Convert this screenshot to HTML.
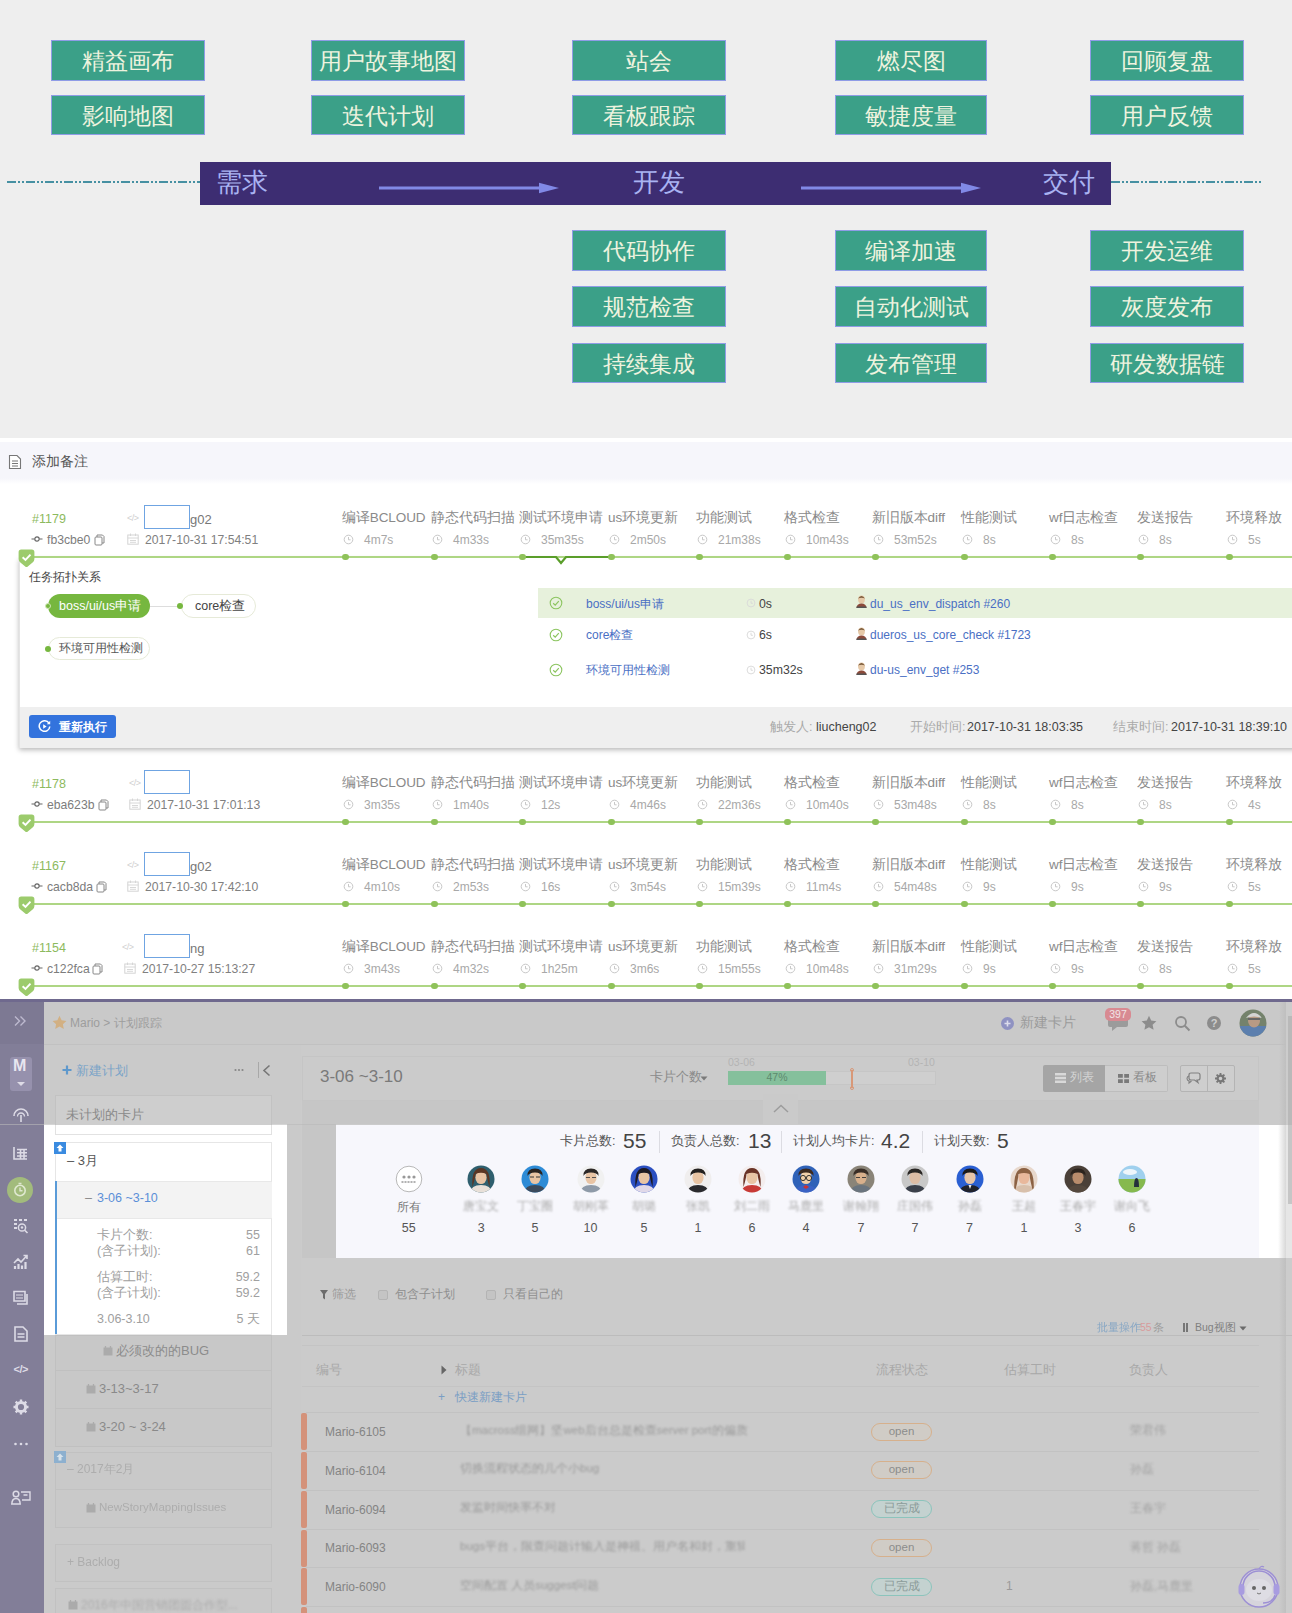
<!DOCTYPE html>
<html><head><meta charset="utf-8">
<style>
*{box-sizing:border-box;margin:0;padding:0}
html,body{width:1292px;height:1613px;overflow:hidden;background:#fff}
body{font-family:"Liberation Sans",sans-serif;position:relative;color:#666}
.a{position:absolute}
#s1,#s2,#s3{overflow:hidden}
.t{position:absolute;white-space:nowrap;line-height:1}
/* section 1 */
#s1{left:0;top:0;width:1292px;height:437.5px;background:#eeeeee}
.gb{position:absolute;width:154px;height:41px;background:#3ba088;border:1px solid #8f9ce6;color:#eef3df;font-size:23px;text-align:center;line-height:41px;white-space:nowrap;overflow:hidden;font-family:"Liberation Sans",sans-serif}
#bar{left:200px;top:162px;width:911px;height:43px;background:#3d2d72}
.bt{color:#a9b3f2;font-size:26px}
/* section 2 */
#s2{left:0;top:438px;width:1292px;height:561px;background:#fff}
.dot{width:6.5px;height:6.5px;border-radius:50%;background:#8fc25a}
.cm{font-size:12.2px;color:#7c7c7c}
.sh{font-size:13.5px;color:#8a8a8a;letter-spacing:-0.1px}
.du{font-size:12px;color:#a8a8a8}
/* section 3 */
#s3{left:0;top:998px;width:1292px;height:615px;background:#cbcbcb}
</style></head><body>
<div id="s1" class="a">
<div class="gb" style="left:51px;top:40px;width:154px;height:41px;line-height:41px">精益画布</div>
<div class="gb" style="left:51px;top:95px;width:154px;height:40px;line-height:40px">影响地图</div>
<div class="gb" style="left:311px;top:40px;width:154px;height:41px;line-height:41px">用户故事地图</div>
<div class="gb" style="left:311px;top:95px;width:154px;height:40px;line-height:40px">迭代计划</div>
<div class="gb" style="left:572px;top:40px;width:154px;height:41px;line-height:41px">站会</div>
<div class="gb" style="left:572px;top:95px;width:154px;height:40px;line-height:40px">看板跟踪</div>
<div class="gb" style="left:572px;top:230px;width:154px;height:41px;line-height:41px">代码协作</div>
<div class="gb" style="left:572px;top:286px;width:154px;height:41px;line-height:41px">规范检查</div>
<div class="gb" style="left:572px;top:343px;width:154px;height:40px;line-height:40px">持续集成</div>
<div class="gb" style="left:835px;top:40px;width:152px;height:41px;line-height:41px">燃尽图</div>
<div class="gb" style="left:835px;top:95px;width:152px;height:40px;line-height:40px">敏捷度量</div>
<div class="gb" style="left:835px;top:230px;width:152px;height:41px;line-height:41px">编译加速</div>
<div class="gb" style="left:835px;top:286px;width:152px;height:41px;line-height:41px">自动化测试</div>
<div class="gb" style="left:835px;top:343px;width:152px;height:40px;line-height:40px">发布管理</div>
<div class="gb" style="left:1090px;top:40px;width:154px;height:41px;line-height:41px">回顾复盘</div>
<div class="gb" style="left:1090px;top:95px;width:154px;height:40px;line-height:40px">用户反馈</div>
<div class="gb" style="left:1090px;top:230px;width:154px;height:41px;line-height:41px">开发运维</div>
<div class="gb" style="left:1090px;top:286px;width:154px;height:41px;line-height:41px">灰度发布</div>
<div class="gb" style="left:1090px;top:343px;width:154px;height:40px;line-height:40px">研发数据链</div>
<svg class="a" style="left:0;top:170px" width="1292" height="30"><line x1="7" y1="12" x2="200" y2="12" stroke="#4690a2" stroke-width="1.8" stroke-dasharray="9 2 2 2 2 2"/><line x1="1111" y1="12" x2="1262" y2="12" stroke="#4690a2" stroke-width="1.8" stroke-dasharray="9 2 2 2 2 2"/></svg>
<div id="bar" class="a"></div>
<svg class="a" style="left:370px;top:178px" width="620" height="20"><path d="M9 10H172" stroke="#8189e6" stroke-width="3.2" fill="none"/><path d="M169 4.8L189 10L169 15.2Z" fill="#8189e6"/><path d="M431 10H594" stroke="#8189e6" stroke-width="3.2" fill="none"/><path d="M591 4.8L611 10L591 15.2Z" fill="#8189e6"/></svg>
<div class="t bt" style="left:216px;top:169px">需求</div>
<div class="t bt" style="left:633px;top:169px">开发</div>
<div class="t bt" style="left:1043px;top:169px">交付</div>
</div>
<div id="s2" class="a">
<div class="a" style="left:0;top:3.6px;width:1292px;height:42px;background:linear-gradient(to bottom,#f6f6fb 0,#f6f6fb 36px,#fff 42px)"></div>
<svg class="a" style="left:8px;top:16px" width="14" height="16" viewBox="0 0 14 16"><path d="M1.5 1.5H9L12.5 5V14.5H1.5Z" fill="#fff" stroke="#777" stroke-width="1.1"/><path d="M4 7H10M4 9.5H10M4 12H10" stroke="#777" stroke-width="1"/></svg>
<div class="t" style="left:32px;top:17px;font-size:13.5px;color:#555">添加备注</div>
<!--PANEL-->
<div class="a" style="left:19px;top:120px;width:1290px;height:189.5px;background:#fff;box-shadow:0 2px 5px rgba(0,0,0,0.28);border-left:1px solid #e4e4e4"></div>
<div class="a" style="left:20px;top:269px;width:1272px;height:40.5px;background:#efefef"></div>
<div class="t" style="left:29px;top:132.8px;font-size:11.6px;color:#444">任务拓扑关系</div>
<div class="a" style="left:48px;top:156px;width:102px;height:24px;border-radius:12px;background:#76b73f;color:#fff;font-size:12.5px;line-height:24px;padding-left:11px;white-space:nowrap">boss/ui/us申请</div>
<div class="a" style="left:45px;top:165px;width:6px;height:6px;border-radius:50%;background:#76b73f;border:1px solid #cfe6b5"></div>
<div class="a" style="left:150px;top:167.5px;width:28px;height:1px;background:#ddd"></div>
<div class="a" style="left:181px;top:156px;width:75px;height:24px;border-radius:12px;background:#fff;border:1px solid #e6ead8;color:#444;font-size:12.5px;line-height:22px;padding-left:13px;white-space:nowrap">core检查</div>
<div class="a" style="left:177px;top:165px;width:6px;height:6px;border-radius:50%;background:#76b73f"></div>
<div class="a" style="left:48px;top:199px;width:102px;height:23px;border-radius:12px;background:#fff;border:1px solid #e6ead8;color:#555;font-size:12px;line-height:21px;padding-left:10px;white-space:nowrap">环境可用性检测</div>
<div class="a" style="left:45px;top:208px;width:6px;height:6px;border-radius:50%;background:#76b73f"></div>
<div class="a" style="left:538px;top:150px;width:754px;height:30px;background:#e7f1dc"></div>
<svg class="a" style="left:549px;top:158px" width="14" height="14" viewBox="0 0 14 14"><circle cx="7" cy="7" r="5.8" fill="none" stroke="#8cc560" stroke-width="1.1"/><path d="M4.2 7.2L6.2 9.1L9.8 5.1" stroke="#8cc560" stroke-width="1.2" fill="none"/></svg>
<div class="t" style="left:586px;top:159.5px;font-size:12px;color:#4a6fc4">boss/ui/us申请</div>
<svg class="a" style="left:746px;top:160px" width="10" height="10" viewBox="0 0 11 11"><circle cx="5.5" cy="5.5" r="4.3" fill="none" stroke="#d8d8d8" stroke-width="1"/><path d="M5.5 3V5.8H7.6" stroke="#d8d8d8" stroke-width="1" fill="none"/></svg>
<div class="t" style="left:759px;top:159.5px;font-size:12.3px;color:#444">0s</div>
<svg class="a" style="left:856px;top:157px" width="11" height="13" viewBox="0 0 11 13"><ellipse cx="5.5" cy="4.6" rx="3.4" ry="4" fill="#e6c9a8"/><path d="M2 3.5Q5.5 -1.5 9 3.5Q5.5 1.8 2 3.5Z" fill="#7a5a3a"/><path d="M0.5 13Q0.8 8.5 5.5 8.5Q10.2 8.5 10.5 13Z" fill="#8c4a3a"/><rect x="0.5" y="11.5" width="10" height="1.5" fill="#555"/></svg>
<div class="t" style="left:870px;top:159.5px;font-size:12px;color:#4a6fc4">du_us_env_dispatch #260</div>
<svg class="a" style="left:549px;top:189.5px" width="14" height="14" viewBox="0 0 14 14"><circle cx="7" cy="7" r="5.8" fill="none" stroke="#8cc560" stroke-width="1.1"/><path d="M4.2 7.2L6.2 9.1L9.8 5.1" stroke="#8cc560" stroke-width="1.2" fill="none"/></svg>
<div class="t" style="left:586px;top:191px;font-size:12px;color:#4a6fc4">core检查</div>
<svg class="a" style="left:746px;top:191.5px" width="10" height="10" viewBox="0 0 11 11"><circle cx="5.5" cy="5.5" r="4.3" fill="none" stroke="#d8d8d8" stroke-width="1"/><path d="M5.5 3V5.8H7.6" stroke="#d8d8d8" stroke-width="1" fill="none"/></svg>
<div class="t" style="left:759px;top:191px;font-size:12.3px;color:#444">6s</div>
<svg class="a" style="left:856px;top:188.5px" width="11" height="13" viewBox="0 0 11 13"><ellipse cx="5.5" cy="4.6" rx="3.4" ry="4" fill="#e6c9a8"/><path d="M2 3.5Q5.5 -1.5 9 3.5Q5.5 1.8 2 3.5Z" fill="#7a5a3a"/><path d="M0.5 13Q0.8 8.5 5.5 8.5Q10.2 8.5 10.5 13Z" fill="#8c4a3a"/><rect x="0.5" y="11.5" width="10" height="1.5" fill="#555"/></svg>
<div class="t" style="left:870px;top:191px;font-size:12px;color:#4a6fc4">dueros_us_core_check #1723</div>
<svg class="a" style="left:549px;top:224.5px" width="14" height="14" viewBox="0 0 14 14"><circle cx="7" cy="7" r="5.8" fill="none" stroke="#8cc560" stroke-width="1.1"/><path d="M4.2 7.2L6.2 9.1L9.8 5.1" stroke="#8cc560" stroke-width="1.2" fill="none"/></svg>
<div class="t" style="left:586px;top:226px;font-size:12px;color:#4a6fc4">环境可用性检测</div>
<svg class="a" style="left:746px;top:226.5px" width="10" height="10" viewBox="0 0 11 11"><circle cx="5.5" cy="5.5" r="4.3" fill="none" stroke="#d8d8d8" stroke-width="1"/><path d="M5.5 3V5.8H7.6" stroke="#d8d8d8" stroke-width="1" fill="none"/></svg>
<div class="t" style="left:759px;top:226px;font-size:12.3px;color:#444">35m32s</div>
<svg class="a" style="left:856px;top:223.5px" width="11" height="13" viewBox="0 0 11 13"><ellipse cx="5.5" cy="4.6" rx="3.4" ry="4" fill="#e6c9a8"/><path d="M2 3.5Q5.5 -1.5 9 3.5Q5.5 1.8 2 3.5Z" fill="#7a5a3a"/><path d="M0.5 13Q0.8 8.5 5.5 8.5Q10.2 8.5 10.5 13Z" fill="#8c4a3a"/><rect x="0.5" y="11.5" width="10" height="1.5" fill="#555"/></svg>
<div class="t" style="left:870px;top:226px;font-size:12px;color:#4a6fc4">du-us_env_get #253</div>
<div class="a" style="left:29px;top:277px;width:87px;height:23px;border-radius:3px;background:#3373dd"></div>
<svg class="a" style="left:38px;top:282px" width="13" height="13" viewBox="0 0 13 13"><path d="M11 3.2A5.3 5.3 0 1 0 11.8 6.5" fill="none" stroke="#fff" stroke-width="1.5"/><path d="M12.2 0.8V4.2H8.8Z" fill="#fff"/><path d="M5.2 4.2L8.6 6.5L5.2 8.8Z" fill="#fff"/></svg>
<div class="t" style="left:59px;top:282.5px;font-size:12px;color:#fff;font-weight:bold">重新执行</div>
<div class="t" style="left:770px;top:283px;font-size:12.5px;color:#aaa">触发人:</div>
<div class="t" style="left:816px;top:283px;font-size:12.5px;color:#444">liucheng02</div>
<div class="t" style="left:910px;top:283px;font-size:12.5px;color:#aaa">开始时间:</div>
<div class="t" style="left:967px;top:283px;font-size:12.5px;color:#444">2017-10-31 18:03:35</div>
<div class="t" style="left:1113px;top:283px;font-size:12.5px;color:#aaa">结束时间:</div>
<div class="t" style="left:1171px;top:283px;font-size:12.5px;color:#444">2017-10-31 18:39:10</div>
<div class="a" style="left:26px;top:118px;width:1266px;height:2px;background:#aed684"></div>
<svg class="a" style="left:520px;top:114px" width="94" height="14" viewBox="0 0 94 14"><path d="M3 5H36L41 11L46 5H90" fill="none" stroke="#5a9e2a" stroke-width="2.2"/></svg><div class="a dot" style="left:342px;top:115.75px"></div>
<div class="a dot" style="left:431px;top:115.75px"></div>
<div class="a dot" style="left:519px;top:115.75px"></div>
<div class="a dot" style="left:608px;top:115.75px"></div>
<div class="a dot" style="left:696px;top:115.75px"></div>
<div class="a dot" style="left:784px;top:115.75px"></div>
<div class="a dot" style="left:872px;top:115.75px"></div>
<div class="a dot" style="left:961px;top:115.75px"></div>
<div class="a dot" style="left:1049px;top:115.75px"></div>
<div class="a dot" style="left:1137px;top:115.75px"></div>
<div class="a dot" style="left:1226px;top:115.75px"></div>
<svg class="a" style="left:18px;top:111px" width="17" height="19" viewBox="0 0 17 19"><path d="M3.2 0.6H13.8Q16.4 0.6 16.4 3.2V10Q16.4 12.2 14.6 13.5L9.8 17.4Q8.5 18.4 7.2 17.4L2.4 13.5Q0.6 12.2 0.6 10V3.2Q0.6 0.6 3.2 0.6Z" fill="#9ccb6c"/><path d="M4.6 8.2L7.5 11L12.5 5.6" stroke="#fff" stroke-width="1.9" fill="none"/></svg>
<div class="t" style="left:32px;top:75px;font-size:12.5px;color:#8dba5e">#1179</div>
<svg class="a" style="left:31px;top:97px" width="12" height="8" viewBox="0 0 12 8"><circle cx="6" cy="4" r="2.2" fill="none" stroke="#666" stroke-width="1.2"/><path d="M0.5 4H3.5M8.5 4H11.5" stroke="#666" stroke-width="1.2"/></svg>
<div class="t cm" style="left:47px;top:95.5px">fb3cbe0</div><svg class="a" style="left:94px;top:95.5px" width="11" height="12" viewBox="0 0 11 12"><path d="M3 3V1H8.5L10 2.5V9H8" fill="none" stroke="#888" stroke-width="1"/><rect x="1" y="3" width="7" height="8" rx="1" fill="#fff" stroke="#888" stroke-width="1"/></svg>
<div class="t" style="left:127px;top:76px;font-size:9px;color:#cfcfcf;letter-spacing:-0.5px">&lt;/&gt;</div>
<div class="t" style="left:190px;top:74.5px;font-size:13px;color:#777">g02</div>
<div class="a" style="left:144px;top:67px;width:46px;height:24px;border:1.3px solid #6fa4e2;background:#fff"></div>
<svg class="a" style="left:127px;top:95px" width="12" height="12" viewBox="0 0 12 12"><rect x="0.8" y="2" width="10.4" height="9.2" fill="none" stroke="#d4d4d4" stroke-width="1"/><path d="M0.8 5H11.2M3.5 0.5V3M8.5 0.5V3M3 7.5H9M3 9.3H9" stroke="#d4d4d4" stroke-width="0.9"/></svg>
<div class="t cm" style="left:145px;top:95.5px;color:#808080">2017-10-31 17:54:51</div>
<div class="t sh" style="left:342px;top:73px">编译BCLOUD</div>
<svg class="a" style="left:343px;top:96px" width="11" height="11" viewBox="0 0 11 11"><circle cx="5.5" cy="5.5" r="4.3" fill="none" stroke="#c8c8c8" stroke-width="1"/><path d="M5.5 3V5.8H7.6" stroke="#c8c8c8" stroke-width="1" fill="none"/></svg>
<div class="t du" style="left:364px;top:96px">4m7s</div>
<div class="t sh" style="left:431px;top:73px">静态代码扫描</div>
<svg class="a" style="left:432px;top:96px" width="11" height="11" viewBox="0 0 11 11"><circle cx="5.5" cy="5.5" r="4.3" fill="none" stroke="#c8c8c8" stroke-width="1"/><path d="M5.5 3V5.8H7.6" stroke="#c8c8c8" stroke-width="1" fill="none"/></svg>
<div class="t du" style="left:453px;top:96px">4m33s</div>
<div class="t sh" style="left:519px;top:73px">测试环境申请</div>
<svg class="a" style="left:520px;top:96px" width="11" height="11" viewBox="0 0 11 11"><circle cx="5.5" cy="5.5" r="4.3" fill="none" stroke="#c8c8c8" stroke-width="1"/><path d="M5.5 3V5.8H7.6" stroke="#c8c8c8" stroke-width="1" fill="none"/></svg>
<div class="t du" style="left:541px;top:96px">35m35s</div>
<div class="t sh" style="left:608px;top:73px">us环境更新</div>
<svg class="a" style="left:609px;top:96px" width="11" height="11" viewBox="0 0 11 11"><circle cx="5.5" cy="5.5" r="4.3" fill="none" stroke="#c8c8c8" stroke-width="1"/><path d="M5.5 3V5.8H7.6" stroke="#c8c8c8" stroke-width="1" fill="none"/></svg>
<div class="t du" style="left:630px;top:96px">2m50s</div>
<div class="t sh" style="left:696px;top:73px">功能测试</div>
<svg class="a" style="left:697px;top:96px" width="11" height="11" viewBox="0 0 11 11"><circle cx="5.5" cy="5.5" r="4.3" fill="none" stroke="#c8c8c8" stroke-width="1"/><path d="M5.5 3V5.8H7.6" stroke="#c8c8c8" stroke-width="1" fill="none"/></svg>
<div class="t du" style="left:718px;top:96px">21m38s</div>
<div class="t sh" style="left:784px;top:73px">格式检查</div>
<svg class="a" style="left:785px;top:96px" width="11" height="11" viewBox="0 0 11 11"><circle cx="5.5" cy="5.5" r="4.3" fill="none" stroke="#c8c8c8" stroke-width="1"/><path d="M5.5 3V5.8H7.6" stroke="#c8c8c8" stroke-width="1" fill="none"/></svg>
<div class="t du" style="left:806px;top:96px">10m43s</div>
<div class="t sh" style="left:872px;top:73px">新旧版本diff</div>
<svg class="a" style="left:873px;top:96px" width="11" height="11" viewBox="0 0 11 11"><circle cx="5.5" cy="5.5" r="4.3" fill="none" stroke="#c8c8c8" stroke-width="1"/><path d="M5.5 3V5.8H7.6" stroke="#c8c8c8" stroke-width="1" fill="none"/></svg>
<div class="t du" style="left:894px;top:96px">53m52s</div>
<div class="t sh" style="left:961px;top:73px">性能测试</div>
<svg class="a" style="left:962px;top:96px" width="11" height="11" viewBox="0 0 11 11"><circle cx="5.5" cy="5.5" r="4.3" fill="none" stroke="#c8c8c8" stroke-width="1"/><path d="M5.5 3V5.8H7.6" stroke="#c8c8c8" stroke-width="1" fill="none"/></svg>
<div class="t du" style="left:983px;top:96px">8s</div>
<div class="t sh" style="left:1049px;top:73px">wf日志检查</div>
<svg class="a" style="left:1050px;top:96px" width="11" height="11" viewBox="0 0 11 11"><circle cx="5.5" cy="5.5" r="4.3" fill="none" stroke="#c8c8c8" stroke-width="1"/><path d="M5.5 3V5.8H7.6" stroke="#c8c8c8" stroke-width="1" fill="none"/></svg>
<div class="t du" style="left:1071px;top:96px">8s</div>
<div class="t sh" style="left:1137px;top:73px">发送报告</div>
<svg class="a" style="left:1138px;top:96px" width="11" height="11" viewBox="0 0 11 11"><circle cx="5.5" cy="5.5" r="4.3" fill="none" stroke="#c8c8c8" stroke-width="1"/><path d="M5.5 3V5.8H7.6" stroke="#c8c8c8" stroke-width="1" fill="none"/></svg>
<div class="t du" style="left:1159px;top:96px">8s</div>
<div class="t sh" style="left:1226px;top:73px">环境释放</div>
<svg class="a" style="left:1227px;top:96px" width="11" height="11" viewBox="0 0 11 11"><circle cx="5.5" cy="5.5" r="4.3" fill="none" stroke="#c8c8c8" stroke-width="1"/><path d="M5.5 3V5.8H7.6" stroke="#c8c8c8" stroke-width="1" fill="none"/></svg>
<div class="t du" style="left:1248px;top:96px">5s</div>
<div class="a" style="left:26px;top:383px;width:1266px;height:2px;background:#aed684"></div>
<div class="a dot" style="left:342px;top:380.75px"></div>
<div class="a dot" style="left:431px;top:380.75px"></div>
<div class="a dot" style="left:519px;top:380.75px"></div>
<div class="a dot" style="left:608px;top:380.75px"></div>
<div class="a dot" style="left:696px;top:380.75px"></div>
<div class="a dot" style="left:784px;top:380.75px"></div>
<div class="a dot" style="left:872px;top:380.75px"></div>
<div class="a dot" style="left:961px;top:380.75px"></div>
<div class="a dot" style="left:1049px;top:380.75px"></div>
<div class="a dot" style="left:1137px;top:380.75px"></div>
<div class="a dot" style="left:1226px;top:380.75px"></div>
<svg class="a" style="left:18px;top:376px" width="17" height="19" viewBox="0 0 17 19"><path d="M3.2 0.6H13.8Q16.4 0.6 16.4 3.2V10Q16.4 12.2 14.6 13.5L9.8 17.4Q8.5 18.4 7.2 17.4L2.4 13.5Q0.6 12.2 0.6 10V3.2Q0.6 0.6 3.2 0.6Z" fill="#9ccb6c"/><path d="M4.6 8.2L7.5 11L12.5 5.6" stroke="#fff" stroke-width="1.9" fill="none"/></svg>
<div class="t" style="left:32px;top:340px;font-size:12.5px;color:#8dba5e">#1178</div>
<svg class="a" style="left:31px;top:362px" width="12" height="8" viewBox="0 0 12 8"><circle cx="6" cy="4" r="2.2" fill="none" stroke="#666" stroke-width="1.2"/><path d="M0.5 4H3.5M8.5 4H11.5" stroke="#666" stroke-width="1.2"/></svg>
<div class="t cm" style="left:47px;top:360.5px">eba623b</div><svg class="a" style="left:98px;top:360.5px" width="11" height="12" viewBox="0 0 11 12"><path d="M3 3V1H8.5L10 2.5V9H8" fill="none" stroke="#888" stroke-width="1"/><rect x="1" y="3" width="7" height="8" rx="1" fill="#fff" stroke="#888" stroke-width="1"/></svg>
<div class="t" style="left:129px;top:341px;font-size:9px;color:#cfcfcf;letter-spacing:-0.5px">&lt;/&gt;</div>
<div class="t" style="left:190px;top:339.5px;font-size:13px;color:#777"></div>
<div class="a" style="left:144px;top:332px;width:46px;height:24px;border:1.3px solid #6fa4e2;background:#fff"></div>
<svg class="a" style="left:129px;top:360px" width="12" height="12" viewBox="0 0 12 12"><rect x="0.8" y="2" width="10.4" height="9.2" fill="none" stroke="#d4d4d4" stroke-width="1"/><path d="M0.8 5H11.2M3.5 0.5V3M8.5 0.5V3M3 7.5H9M3 9.3H9" stroke="#d4d4d4" stroke-width="0.9"/></svg>
<div class="t cm" style="left:147px;top:360.5px;color:#808080">2017-10-31 17:01:13</div>
<div class="t sh" style="left:342px;top:338px">编译BCLOUD</div>
<svg class="a" style="left:343px;top:361px" width="11" height="11" viewBox="0 0 11 11"><circle cx="5.5" cy="5.5" r="4.3" fill="none" stroke="#c8c8c8" stroke-width="1"/><path d="M5.5 3V5.8H7.6" stroke="#c8c8c8" stroke-width="1" fill="none"/></svg>
<div class="t du" style="left:364px;top:361px">3m35s</div>
<div class="t sh" style="left:431px;top:338px">静态代码扫描</div>
<svg class="a" style="left:432px;top:361px" width="11" height="11" viewBox="0 0 11 11"><circle cx="5.5" cy="5.5" r="4.3" fill="none" stroke="#c8c8c8" stroke-width="1"/><path d="M5.5 3V5.8H7.6" stroke="#c8c8c8" stroke-width="1" fill="none"/></svg>
<div class="t du" style="left:453px;top:361px">1m40s</div>
<div class="t sh" style="left:519px;top:338px">测试环境申请</div>
<svg class="a" style="left:520px;top:361px" width="11" height="11" viewBox="0 0 11 11"><circle cx="5.5" cy="5.5" r="4.3" fill="none" stroke="#c8c8c8" stroke-width="1"/><path d="M5.5 3V5.8H7.6" stroke="#c8c8c8" stroke-width="1" fill="none"/></svg>
<div class="t du" style="left:541px;top:361px">12s</div>
<div class="t sh" style="left:608px;top:338px">us环境更新</div>
<svg class="a" style="left:609px;top:361px" width="11" height="11" viewBox="0 0 11 11"><circle cx="5.5" cy="5.5" r="4.3" fill="none" stroke="#c8c8c8" stroke-width="1"/><path d="M5.5 3V5.8H7.6" stroke="#c8c8c8" stroke-width="1" fill="none"/></svg>
<div class="t du" style="left:630px;top:361px">4m46s</div>
<div class="t sh" style="left:696px;top:338px">功能测试</div>
<svg class="a" style="left:697px;top:361px" width="11" height="11" viewBox="0 0 11 11"><circle cx="5.5" cy="5.5" r="4.3" fill="none" stroke="#c8c8c8" stroke-width="1"/><path d="M5.5 3V5.8H7.6" stroke="#c8c8c8" stroke-width="1" fill="none"/></svg>
<div class="t du" style="left:718px;top:361px">22m36s</div>
<div class="t sh" style="left:784px;top:338px">格式检查</div>
<svg class="a" style="left:785px;top:361px" width="11" height="11" viewBox="0 0 11 11"><circle cx="5.5" cy="5.5" r="4.3" fill="none" stroke="#c8c8c8" stroke-width="1"/><path d="M5.5 3V5.8H7.6" stroke="#c8c8c8" stroke-width="1" fill="none"/></svg>
<div class="t du" style="left:806px;top:361px">10m40s</div>
<div class="t sh" style="left:872px;top:338px">新旧版本diff</div>
<svg class="a" style="left:873px;top:361px" width="11" height="11" viewBox="0 0 11 11"><circle cx="5.5" cy="5.5" r="4.3" fill="none" stroke="#c8c8c8" stroke-width="1"/><path d="M5.5 3V5.8H7.6" stroke="#c8c8c8" stroke-width="1" fill="none"/></svg>
<div class="t du" style="left:894px;top:361px">53m48s</div>
<div class="t sh" style="left:961px;top:338px">性能测试</div>
<svg class="a" style="left:962px;top:361px" width="11" height="11" viewBox="0 0 11 11"><circle cx="5.5" cy="5.5" r="4.3" fill="none" stroke="#c8c8c8" stroke-width="1"/><path d="M5.5 3V5.8H7.6" stroke="#c8c8c8" stroke-width="1" fill="none"/></svg>
<div class="t du" style="left:983px;top:361px">8s</div>
<div class="t sh" style="left:1049px;top:338px">wf日志检查</div>
<svg class="a" style="left:1050px;top:361px" width="11" height="11" viewBox="0 0 11 11"><circle cx="5.5" cy="5.5" r="4.3" fill="none" stroke="#c8c8c8" stroke-width="1"/><path d="M5.5 3V5.8H7.6" stroke="#c8c8c8" stroke-width="1" fill="none"/></svg>
<div class="t du" style="left:1071px;top:361px">8s</div>
<div class="t sh" style="left:1137px;top:338px">发送报告</div>
<svg class="a" style="left:1138px;top:361px" width="11" height="11" viewBox="0 0 11 11"><circle cx="5.5" cy="5.5" r="4.3" fill="none" stroke="#c8c8c8" stroke-width="1"/><path d="M5.5 3V5.8H7.6" stroke="#c8c8c8" stroke-width="1" fill="none"/></svg>
<div class="t du" style="left:1159px;top:361px">8s</div>
<div class="t sh" style="left:1226px;top:338px">环境释放</div>
<svg class="a" style="left:1227px;top:361px" width="11" height="11" viewBox="0 0 11 11"><circle cx="5.5" cy="5.5" r="4.3" fill="none" stroke="#c8c8c8" stroke-width="1"/><path d="M5.5 3V5.8H7.6" stroke="#c8c8c8" stroke-width="1" fill="none"/></svg>
<div class="t du" style="left:1248px;top:361px">4s</div>
<div class="a" style="left:26px;top:465px;width:1266px;height:2px;background:#aed684"></div>
<div class="a dot" style="left:342px;top:462.75px"></div>
<div class="a dot" style="left:431px;top:462.75px"></div>
<div class="a dot" style="left:519px;top:462.75px"></div>
<div class="a dot" style="left:608px;top:462.75px"></div>
<div class="a dot" style="left:696px;top:462.75px"></div>
<div class="a dot" style="left:784px;top:462.75px"></div>
<div class="a dot" style="left:872px;top:462.75px"></div>
<div class="a dot" style="left:961px;top:462.75px"></div>
<div class="a dot" style="left:1049px;top:462.75px"></div>
<div class="a dot" style="left:1137px;top:462.75px"></div>
<div class="a dot" style="left:1226px;top:462.75px"></div>
<svg class="a" style="left:18px;top:458px" width="17" height="19" viewBox="0 0 17 19"><path d="M3.2 0.6H13.8Q16.4 0.6 16.4 3.2V10Q16.4 12.2 14.6 13.5L9.8 17.4Q8.5 18.4 7.2 17.4L2.4 13.5Q0.6 12.2 0.6 10V3.2Q0.6 0.6 3.2 0.6Z" fill="#9ccb6c"/><path d="M4.6 8.2L7.5 11L12.5 5.6" stroke="#fff" stroke-width="1.9" fill="none"/></svg>
<div class="t" style="left:32px;top:422px;font-size:12.5px;color:#8dba5e">#1167</div>
<svg class="a" style="left:31px;top:444px" width="12" height="8" viewBox="0 0 12 8"><circle cx="6" cy="4" r="2.2" fill="none" stroke="#666" stroke-width="1.2"/><path d="M0.5 4H3.5M8.5 4H11.5" stroke="#666" stroke-width="1.2"/></svg>
<div class="t cm" style="left:47px;top:442.5px">cacb8da</div><svg class="a" style="left:96px;top:442.5px" width="11" height="12" viewBox="0 0 11 12"><path d="M3 3V1H8.5L10 2.5V9H8" fill="none" stroke="#888" stroke-width="1"/><rect x="1" y="3" width="7" height="8" rx="1" fill="#fff" stroke="#888" stroke-width="1"/></svg>
<div class="t" style="left:127px;top:423px;font-size:9px;color:#cfcfcf;letter-spacing:-0.5px">&lt;/&gt;</div>
<div class="t" style="left:190px;top:421.5px;font-size:13px;color:#777">g02</div>
<div class="a" style="left:144px;top:414px;width:46px;height:24px;border:1.3px solid #6fa4e2;background:#fff"></div>
<svg class="a" style="left:127px;top:442px" width="12" height="12" viewBox="0 0 12 12"><rect x="0.8" y="2" width="10.4" height="9.2" fill="none" stroke="#d4d4d4" stroke-width="1"/><path d="M0.8 5H11.2M3.5 0.5V3M8.5 0.5V3M3 7.5H9M3 9.3H9" stroke="#d4d4d4" stroke-width="0.9"/></svg>
<div class="t cm" style="left:145px;top:442.5px;color:#808080">2017-10-30 17:42:10</div>
<div class="t sh" style="left:342px;top:420px">编译BCLOUD</div>
<svg class="a" style="left:343px;top:443px" width="11" height="11" viewBox="0 0 11 11"><circle cx="5.5" cy="5.5" r="4.3" fill="none" stroke="#c8c8c8" stroke-width="1"/><path d="M5.5 3V5.8H7.6" stroke="#c8c8c8" stroke-width="1" fill="none"/></svg>
<div class="t du" style="left:364px;top:443px">4m10s</div>
<div class="t sh" style="left:431px;top:420px">静态代码扫描</div>
<svg class="a" style="left:432px;top:443px" width="11" height="11" viewBox="0 0 11 11"><circle cx="5.5" cy="5.5" r="4.3" fill="none" stroke="#c8c8c8" stroke-width="1"/><path d="M5.5 3V5.8H7.6" stroke="#c8c8c8" stroke-width="1" fill="none"/></svg>
<div class="t du" style="left:453px;top:443px">2m53s</div>
<div class="t sh" style="left:519px;top:420px">测试环境申请</div>
<svg class="a" style="left:520px;top:443px" width="11" height="11" viewBox="0 0 11 11"><circle cx="5.5" cy="5.5" r="4.3" fill="none" stroke="#c8c8c8" stroke-width="1"/><path d="M5.5 3V5.8H7.6" stroke="#c8c8c8" stroke-width="1" fill="none"/></svg>
<div class="t du" style="left:541px;top:443px">16s</div>
<div class="t sh" style="left:608px;top:420px">us环境更新</div>
<svg class="a" style="left:609px;top:443px" width="11" height="11" viewBox="0 0 11 11"><circle cx="5.5" cy="5.5" r="4.3" fill="none" stroke="#c8c8c8" stroke-width="1"/><path d="M5.5 3V5.8H7.6" stroke="#c8c8c8" stroke-width="1" fill="none"/></svg>
<div class="t du" style="left:630px;top:443px">3m54s</div>
<div class="t sh" style="left:696px;top:420px">功能测试</div>
<svg class="a" style="left:697px;top:443px" width="11" height="11" viewBox="0 0 11 11"><circle cx="5.5" cy="5.5" r="4.3" fill="none" stroke="#c8c8c8" stroke-width="1"/><path d="M5.5 3V5.8H7.6" stroke="#c8c8c8" stroke-width="1" fill="none"/></svg>
<div class="t du" style="left:718px;top:443px">15m39s</div>
<div class="t sh" style="left:784px;top:420px">格式检查</div>
<svg class="a" style="left:785px;top:443px" width="11" height="11" viewBox="0 0 11 11"><circle cx="5.5" cy="5.5" r="4.3" fill="none" stroke="#c8c8c8" stroke-width="1"/><path d="M5.5 3V5.8H7.6" stroke="#c8c8c8" stroke-width="1" fill="none"/></svg>
<div class="t du" style="left:806px;top:443px">11m4s</div>
<div class="t sh" style="left:872px;top:420px">新旧版本diff</div>
<svg class="a" style="left:873px;top:443px" width="11" height="11" viewBox="0 0 11 11"><circle cx="5.5" cy="5.5" r="4.3" fill="none" stroke="#c8c8c8" stroke-width="1"/><path d="M5.5 3V5.8H7.6" stroke="#c8c8c8" stroke-width="1" fill="none"/></svg>
<div class="t du" style="left:894px;top:443px">54m48s</div>
<div class="t sh" style="left:961px;top:420px">性能测试</div>
<svg class="a" style="left:962px;top:443px" width="11" height="11" viewBox="0 0 11 11"><circle cx="5.5" cy="5.5" r="4.3" fill="none" stroke="#c8c8c8" stroke-width="1"/><path d="M5.5 3V5.8H7.6" stroke="#c8c8c8" stroke-width="1" fill="none"/></svg>
<div class="t du" style="left:983px;top:443px">9s</div>
<div class="t sh" style="left:1049px;top:420px">wf日志检查</div>
<svg class="a" style="left:1050px;top:443px" width="11" height="11" viewBox="0 0 11 11"><circle cx="5.5" cy="5.5" r="4.3" fill="none" stroke="#c8c8c8" stroke-width="1"/><path d="M5.5 3V5.8H7.6" stroke="#c8c8c8" stroke-width="1" fill="none"/></svg>
<div class="t du" style="left:1071px;top:443px">9s</div>
<div class="t sh" style="left:1137px;top:420px">发送报告</div>
<svg class="a" style="left:1138px;top:443px" width="11" height="11" viewBox="0 0 11 11"><circle cx="5.5" cy="5.5" r="4.3" fill="none" stroke="#c8c8c8" stroke-width="1"/><path d="M5.5 3V5.8H7.6" stroke="#c8c8c8" stroke-width="1" fill="none"/></svg>
<div class="t du" style="left:1159px;top:443px">9s</div>
<div class="t sh" style="left:1226px;top:420px">环境释放</div>
<svg class="a" style="left:1227px;top:443px" width="11" height="11" viewBox="0 0 11 11"><circle cx="5.5" cy="5.5" r="4.3" fill="none" stroke="#c8c8c8" stroke-width="1"/><path d="M5.5 3V5.8H7.6" stroke="#c8c8c8" stroke-width="1" fill="none"/></svg>
<div class="t du" style="left:1248px;top:443px">5s</div>
<div class="a" style="left:26px;top:547px;width:1266px;height:2px;background:#aed684"></div>
<div class="a dot" style="left:342px;top:544.75px"></div>
<div class="a dot" style="left:431px;top:544.75px"></div>
<div class="a dot" style="left:519px;top:544.75px"></div>
<div class="a dot" style="left:608px;top:544.75px"></div>
<div class="a dot" style="left:696px;top:544.75px"></div>
<div class="a dot" style="left:784px;top:544.75px"></div>
<div class="a dot" style="left:872px;top:544.75px"></div>
<div class="a dot" style="left:961px;top:544.75px"></div>
<div class="a dot" style="left:1049px;top:544.75px"></div>
<div class="a dot" style="left:1137px;top:544.75px"></div>
<div class="a dot" style="left:1226px;top:544.75px"></div>
<svg class="a" style="left:18px;top:540px" width="17" height="19" viewBox="0 0 17 19"><path d="M3.2 0.6H13.8Q16.4 0.6 16.4 3.2V10Q16.4 12.2 14.6 13.5L9.8 17.4Q8.5 18.4 7.2 17.4L2.4 13.5Q0.6 12.2 0.6 10V3.2Q0.6 0.6 3.2 0.6Z" fill="#9ccb6c"/><path d="M4.6 8.2L7.5 11L12.5 5.6" stroke="#fff" stroke-width="1.9" fill="none"/></svg>
<div class="t" style="left:32px;top:504px;font-size:12.5px;color:#8dba5e">#1154</div>
<svg class="a" style="left:31px;top:526px" width="12" height="8" viewBox="0 0 12 8"><circle cx="6" cy="4" r="2.2" fill="none" stroke="#666" stroke-width="1.2"/><path d="M0.5 4H3.5M8.5 4H11.5" stroke="#666" stroke-width="1.2"/></svg>
<div class="t cm" style="left:47px;top:524.5px">c122fca</div><svg class="a" style="left:92px;top:524.5px" width="11" height="12" viewBox="0 0 11 12"><path d="M3 3V1H8.5L10 2.5V9H8" fill="none" stroke="#888" stroke-width="1"/><rect x="1" y="3" width="7" height="8" rx="1" fill="#fff" stroke="#888" stroke-width="1"/></svg>
<div class="t" style="left:122px;top:505px;font-size:9px;color:#cfcfcf;letter-spacing:-0.5px">&lt;/&gt;</div>
<div class="t" style="left:190px;top:503.5px;font-size:13px;color:#777">ng</div>
<div class="a" style="left:144px;top:496px;width:46px;height:24px;border:1.3px solid #6fa4e2;background:#fff"></div>
<svg class="a" style="left:124px;top:524px" width="12" height="12" viewBox="0 0 12 12"><rect x="0.8" y="2" width="10.4" height="9.2" fill="none" stroke="#d4d4d4" stroke-width="1"/><path d="M0.8 5H11.2M3.5 0.5V3M8.5 0.5V3M3 7.5H9M3 9.3H9" stroke="#d4d4d4" stroke-width="0.9"/></svg>
<div class="t cm" style="left:142px;top:524.5px;color:#808080">2017-10-27 15:13:27</div>
<div class="t sh" style="left:342px;top:502px">编译BCLOUD</div>
<svg class="a" style="left:343px;top:525px" width="11" height="11" viewBox="0 0 11 11"><circle cx="5.5" cy="5.5" r="4.3" fill="none" stroke="#c8c8c8" stroke-width="1"/><path d="M5.5 3V5.8H7.6" stroke="#c8c8c8" stroke-width="1" fill="none"/></svg>
<div class="t du" style="left:364px;top:525px">3m43s</div>
<div class="t sh" style="left:431px;top:502px">静态代码扫描</div>
<svg class="a" style="left:432px;top:525px" width="11" height="11" viewBox="0 0 11 11"><circle cx="5.5" cy="5.5" r="4.3" fill="none" stroke="#c8c8c8" stroke-width="1"/><path d="M5.5 3V5.8H7.6" stroke="#c8c8c8" stroke-width="1" fill="none"/></svg>
<div class="t du" style="left:453px;top:525px">4m32s</div>
<div class="t sh" style="left:519px;top:502px">测试环境申请</div>
<svg class="a" style="left:520px;top:525px" width="11" height="11" viewBox="0 0 11 11"><circle cx="5.5" cy="5.5" r="4.3" fill="none" stroke="#c8c8c8" stroke-width="1"/><path d="M5.5 3V5.8H7.6" stroke="#c8c8c8" stroke-width="1" fill="none"/></svg>
<div class="t du" style="left:541px;top:525px">1h25m</div>
<div class="t sh" style="left:608px;top:502px">us环境更新</div>
<svg class="a" style="left:609px;top:525px" width="11" height="11" viewBox="0 0 11 11"><circle cx="5.5" cy="5.5" r="4.3" fill="none" stroke="#c8c8c8" stroke-width="1"/><path d="M5.5 3V5.8H7.6" stroke="#c8c8c8" stroke-width="1" fill="none"/></svg>
<div class="t du" style="left:630px;top:525px">3m6s</div>
<div class="t sh" style="left:696px;top:502px">功能测试</div>
<svg class="a" style="left:697px;top:525px" width="11" height="11" viewBox="0 0 11 11"><circle cx="5.5" cy="5.5" r="4.3" fill="none" stroke="#c8c8c8" stroke-width="1"/><path d="M5.5 3V5.8H7.6" stroke="#c8c8c8" stroke-width="1" fill="none"/></svg>
<div class="t du" style="left:718px;top:525px">15m55s</div>
<div class="t sh" style="left:784px;top:502px">格式检查</div>
<svg class="a" style="left:785px;top:525px" width="11" height="11" viewBox="0 0 11 11"><circle cx="5.5" cy="5.5" r="4.3" fill="none" stroke="#c8c8c8" stroke-width="1"/><path d="M5.5 3V5.8H7.6" stroke="#c8c8c8" stroke-width="1" fill="none"/></svg>
<div class="t du" style="left:806px;top:525px">10m48s</div>
<div class="t sh" style="left:872px;top:502px">新旧版本diff</div>
<svg class="a" style="left:873px;top:525px" width="11" height="11" viewBox="0 0 11 11"><circle cx="5.5" cy="5.5" r="4.3" fill="none" stroke="#c8c8c8" stroke-width="1"/><path d="M5.5 3V5.8H7.6" stroke="#c8c8c8" stroke-width="1" fill="none"/></svg>
<div class="t du" style="left:894px;top:525px">31m29s</div>
<div class="t sh" style="left:961px;top:502px">性能测试</div>
<svg class="a" style="left:962px;top:525px" width="11" height="11" viewBox="0 0 11 11"><circle cx="5.5" cy="5.5" r="4.3" fill="none" stroke="#c8c8c8" stroke-width="1"/><path d="M5.5 3V5.8H7.6" stroke="#c8c8c8" stroke-width="1" fill="none"/></svg>
<div class="t du" style="left:983px;top:525px">9s</div>
<div class="t sh" style="left:1049px;top:502px">wf日志检查</div>
<svg class="a" style="left:1050px;top:525px" width="11" height="11" viewBox="0 0 11 11"><circle cx="5.5" cy="5.5" r="4.3" fill="none" stroke="#c8c8c8" stroke-width="1"/><path d="M5.5 3V5.8H7.6" stroke="#c8c8c8" stroke-width="1" fill="none"/></svg>
<div class="t du" style="left:1071px;top:525px">9s</div>
<div class="t sh" style="left:1137px;top:502px">发送报告</div>
<svg class="a" style="left:1138px;top:525px" width="11" height="11" viewBox="0 0 11 11"><circle cx="5.5" cy="5.5" r="4.3" fill="none" stroke="#c8c8c8" stroke-width="1"/><path d="M5.5 3V5.8H7.6" stroke="#c8c8c8" stroke-width="1" fill="none"/></svg>
<div class="t du" style="left:1159px;top:525px">8s</div>
<div class="t sh" style="left:1226px;top:502px">环境释放</div>
<svg class="a" style="left:1227px;top:525px" width="11" height="11" viewBox="0 0 11 11"><circle cx="5.5" cy="5.5" r="4.3" fill="none" stroke="#c8c8c8" stroke-width="1"/><path d="M5.5 3V5.8H7.6" stroke="#c8c8c8" stroke-width="1" fill="none"/></svg>
<div class="t du" style="left:1248px;top:525px">5s</div>
</div>
<div id="s3" class="a">
<div class="a" style="left:0px;top:0px;width:1292px;height:1px;background:#fff"></div><div class="a" style="left:0px;top:0.8px;width:1292px;height:3.2px;background:#6f698e"></div>
<div class="a" style="left:0px;top:4px;width:44px;height:611px;background:#827e98"></div>
<div class="a" style="left:0px;top:4px;width:44px;height:42px;background:#7d7993"></div>
<div class="a" style="left:44px;top:4px;width:1248px;height:43px;background:#c9c9c9;border-bottom:1px solid #c1c1c1"></div>
<div class="a" style="left:44px;top:47px;width:257px;height:568px;background:#cacaca"></div>
<div class="a" style="left:302px;top:58px;width:957px;height:45px;background:#cbcbcb;border:1px solid #c5c5c5"></div>
<div class="a" style="left:302px;top:103px;width:957px;height:23px;background:#c6c6c6"></div>
<div class="a" style="left:1279px;top:4px;width:7px;height:611px;background:linear-gradient(to right,rgba(190,190,190,0),rgba(190,190,190,0.9))"></div><div class="a" style="left:1286px;top:4px;width:6px;height:611px;background:#cccccc"></div><div class="a" style="left:1288px;top:18px;width:4px;height:188px;background:#b9b9b9"></div>
<div class="a" style="left:44px;top:126px;width:243px;height:211px;background:#fff"></div>
<div class="a" style="left:336px;top:126.6px;width:956px;height:133.4px;background:linear-gradient(to right,#f7f7fc 0,#f7f7fc 922.5px,#fff 923.5px,#fff 942px,#d8d8d8 950px,#e6e6e6 950.5px,#e6e6e6 956px)"></div><div class="a" style="left:1288px;top:126.6px;width:4px;height:79.4px;background:#c6c6c6"></div>
<div class="a" style="left:302px;top:126px;width:34px;height:134px;background:#c6c6c6"></div>
<div class="a" style="left:0px;top:125.5px;width:336px;height:1px;background:#b9b9b9;opacity:.6"></div>
<svg class="a" style="left:13px;top:17px" width="14" height="12" viewBox="0 0 14 12"><path d="M2 1.5L6.5 6L2 10.5M7.5 1.5L12 6L7.5 10.5" fill="none" stroke="#bdb9cf" stroke-width="1.4"/></svg>
<div class="a" style="left:10px;top:59px;width:22px;height:34px;background:#9691ad;border-radius:3px"></div>
<div class="t" style="left:13px;top:60.0px;font-size:16px;color:#e8e6f0;font-weight:bold">M</div>
<svg class="a" style="left:16px;top:83px" width="10" height="6" viewBox="0 0 10 6"><path d="M1 1H9L5 5Z" fill="#dddbe6"/></svg>
<svg class="a" style="left:12px;top:109px" width="18" height="16" viewBox="0 0 18 16"><path d="M2 9A7 7 0 0 1 16 9" fill="none" stroke="#dddbe6" stroke-width="1.6"/><path d="M5.5 9.5A3.5 3.5 0 0 1 12.5 9.5" fill="none" stroke="#dddbe6" stroke-width="1.3"/><path d="M9 8V15" stroke="#dddbe6" stroke-width="1.6"/></svg>
<svg class="a" style="left:13px;top:148px" width="15" height="14" viewBox="0 0 15 14"><path d="M1 1V13H14M4 3.5H14M4 6.8H14M4 10H14M7.5 3.5V13M11 3.5V13" fill="none" stroke="#dddbe6" stroke-width="1.6"/></svg>
<div class="a" style="left:6.5px;top:179px;width:26px;height:26px;border-radius:50%;background:#a2bb7c"></div>
<svg class="a" style="left:12px;top:184px" width="16" height="16" viewBox="0 0 16 16"><circle cx="8" cy="8.5" r="5.2" fill="none" stroke="#dfe8d0" stroke-width="1.6"/><path d="M8 5.5V8.8H10.5M6.5 1.5H9.5" stroke="#dfe8d0" stroke-width="1.4" fill="none"/></svg>
<svg class="a" style="left:13px;top:220px" width="16" height="16" viewBox="0 0 16 16"><path d="M1 2H4M6 2H9M11 2H14M1 6H4M1 10H4" stroke="#dddbe6" stroke-width="2"/><circle cx="9" cy="9.5" r="3.6" fill="none" stroke="#dddbe6" stroke-width="1.5"/><path d="M11.7 12.2L14.5 15" stroke="#dddbe6" stroke-width="1.6"/><circle cx="9" cy="9.5" r="1.2" fill="#dddbe6"/></svg>
<svg class="a" style="left:13px;top:256px" width="16" height="16" viewBox="0 0 16 16"><path d="M1 9L5 5L8 8L14 1.5M10.5 1.5H14V5" fill="none" stroke="#dddbe6" stroke-width="1.6"/><path d="M2 15V12M5.5 15V10M9 15V11.5M12.5 15V8" stroke="#dddbe6" stroke-width="2.2"/></svg>
<svg class="a" style="left:13px;top:292px" width="16" height="16" viewBox="0 0 16 16"><path d="M1 1.5H12V11H1Z" fill="none" stroke="#dddbe6" stroke-width="1.6"/><path d="M3 5H10M3 8H10" stroke="#dddbe6" stroke-width="1.2"/><path d="M14 4V14H4" fill="none" stroke="#dddbe6" stroke-width="1.6"/></svg>
<svg class="a" style="left:14px;top:328px" width="14" height="16" viewBox="0 0 14 16"><path d="M1 1H9L13 5V15H1Z" fill="none" stroke="#dddbe6" stroke-width="1.6"/><path d="M3.5 8H10.5M3.5 11H10.5" stroke="#dddbe6" stroke-width="1.4"/></svg>
<div class="t" style="left:13.5px;top:366.4px;font-size:11px;color:#dddbe6;font-weight:bold;letter-spacing:-0.5px">&lt;/&gt;</div>
<svg class="a" style="left:13px;top:401px" width="16" height="16" viewBox="0 0 16 16"><circle cx="8" cy="8" r="4.6" fill="none" stroke="#dddbe6" stroke-width="3"/><path d="M8 0.5V3M8 13V15.5M0.5 8H3M13 8H15.5M2.7 2.7L4.4 4.4M11.6 11.6L13.3 13.3M2.7 13.3L4.4 11.6M11.6 4.4L13.3 2.7" stroke="#dddbe6" stroke-width="2.4"/></svg>
<svg class="a" style="left:13px;top:443px" width="16" height="6" viewBox="0 0 16 6"><circle cx="2.5" cy="3" r="1.3" fill="#dddbe6"/><circle cx="8" cy="3" r="1.3" fill="#dddbe6"/><circle cx="13.5" cy="3" r="1.3" fill="#dddbe6"/></svg>
<svg class="a" style="left:11px;top:492px" width="20" height="15" viewBox="0 0 20 15"><circle cx="5" cy="4" r="2.8" fill="none" stroke="#dddbe6" stroke-width="1.5"/><path d="M0.8 14Q1 8.5 5 8.5Q9 8.5 9.2 14Z" fill="none" stroke="#dddbe6" stroke-width="1.5"/><path d="M10 2H19V10H11M12.5 5H16.5" fill="none" stroke="#dddbe6" stroke-width="1.4"/></svg>
<svg class="a" style="left:52px;top:17px" width="15" height="15" viewBox="0 0 15 15"><path d="M7.5 0.8L9.6 5.3L14.4 5.9L10.9 9.2L11.8 14L7.5 11.6L3.2 14L4.1 9.2L0.6 5.9L5.4 5.3Z" fill="#d2b083"/></svg>
<div class="t" style="left:70px;top:18.8px;font-size:12px;color:#9d9d9d;">Mario &gt; 计划跟踪</div>
<div class="a" style="left:1001px;top:19px;width:13px;height:13px;border-radius:50%;background:#8f92c2"></div>
<svg class="a" style="left:1004px;top:22px" width="7" height="7" viewBox="0 0 7 7"><path d="M3.5 0.5V6.5M0.5 3.5H6.5" stroke="#dcdcec" stroke-width="1.6"/></svg>
<div class="t" style="left:1020px;top:17.9px;font-size:13.5px;color:#9b9b9b;">新建卡片</div>
<svg class="a" style="left:1108px;top:18px" width="22" height="16" viewBox="0 0 22 16"><path d="M2 1H18Q20 1 20 3V9Q20 11 18 11H9L4 15V11H2Q0 11 0 9V3Q0 1 2 1Z" fill="#9b9b9b"/></svg>
<div class="a" style="left:1105px;top:10px;width:26px;height:13px;border-radius:5px;background:#d88a92;color:#f0e4e6;font-size:10.5px;line-height:13px;text-align:center">397</div>
<svg class="a" style="left:1141px;top:17px" width="16" height="16" viewBox="0 0 16 16"><path d="M8 0.8L10.2 5.6L15.4 6.2L11.6 9.7L12.6 14.8L8 12.2L3.4 14.8L4.4 9.7L0.6 6.2L5.8 5.6Z" fill="#8c8c8c"/></svg>
<svg class="a" style="left:1174px;top:17px" width="17" height="17" viewBox="0 0 17 17"><circle cx="7" cy="7" r="5" fill="none" stroke="#8c8c8c" stroke-width="1.8"/><path d="M10.8 10.8L15.5 15.5" stroke="#8c8c8c" stroke-width="2"/></svg>
<div class="a" style="left:1207px;top:18px;width:14px;height:14px;border-radius:50%;background:#8c8c8c;color:#cfcfcf;font-size:11px;font-weight:bold;line-height:14px;text-align:center">?</div>
<svg class="a" style="left:1239px;top:11px" width="28" height="28" viewBox="0 0 28 28"><defs><clipPath id="ua"><circle cx="14" cy="14" r="13.5"/></clipPath></defs><g clip-path="url(#ua)"><rect width="28" height="28" fill="#74826c"/><rect y="17" width="28" height="11" fill="#5c7fae"/><ellipse cx="15" cy="12" rx="6" ry="6.5" fill="#b89a84"/><path d="M7 9Q15 -1 23 9Q15 6 7 9Z" fill="#d4d4d4"/><path d="M9 9H21V11H9Z" fill="#666"/></g></svg>
<svg class="a" style="left:62px;top:67px" width="10" height="10" viewBox="0 0 10 10"><path d="M5 0.5V9.5M0.5 5H9.5" stroke="#5e98cc" stroke-width="2.2"/></svg>
<div class="t" style="left:76px;top:66.2px;font-size:13px;color:#7ba4c8;">新建计划</div>
<svg class="a" style="left:234px;top:70px" width="10" height="4" viewBox="0 0 10 4"><circle cx="1.5" cy="2" r="1.1" fill="#888"/><circle cx="5" cy="2" r="1.1" fill="#888"/><circle cx="8.5" cy="2" r="1.1" fill="#888"/></svg>
<div class="a" style="left:258px;top:64px;width:1px;height:16px;background:#a8a8a8"></div>
<svg class="a" style="left:262px;top:66px" width="9" height="13" viewBox="0 0 9 13"><path d="M7.5 1.5L2 6.5L7.5 11.5" fill="none" stroke="#777" stroke-width="1.6"/></svg>
<div class="a" style="left:55px;top:97px;width:217px;height:40px;background:#cecece;border:1px solid #c2c2c2"></div>
<div class="a" style="left:55px;top:126.6px;width:217px;height:10.4px;background:#fff;border:1px solid #e2e2e2;border-top:none"></div>
<div class="t" style="left:66px;top:111.0px;font-size:12.5px;color:#8a8a8a;">未计划的卡片</div>
<div class="a" style="left:55px;top:144px;width:217px;height:193px;background:#fff;border:1px solid #e6e6e6"></div>
<div class="a" style="left:54px;top:144px;width:12px;height:12px;background:#3a8be0"></div>
<svg class="a" style="left:56px;top:146px" width="8" height="8" viewBox="0 0 8 8"><path d="M4 0.5L7.5 4H5.5V7.5H2.5V4H0.5Z" fill="#fff"/></svg>
<div class="t" style="left:67px;top:155.7px;font-size:13px;color:#555;">– 3月</div>
<div class="a" style="left:56px;top:183px;width:216px;height:38px;background:#f3f3f3;border-top:1px solid #e8e8e8;border-bottom:1px solid #e8e8e8"></div>
<div class="a" style="left:55px;top:183px;width:2px;height:153px;background:#5a9bd8"></div>
<div class="t" style="left:85px;top:193.5px;font-size:12.5px;color:#888;">–</div>
<div class="t" style="left:97px;top:193.5px;font-size:12.5px;color:#5b8fd8;">3-06 ~3-10</div>
<div class="t" style="left:97px;top:230.5px;font-size:12.5px;color:#a0a0a0;">卡片个数:</div>
<div class="t" style="right:1032px;top:230.5px;font-size:12.5px;color:#a0a0a0">55</div>
<div class="t" style="left:97px;top:247.0px;font-size:12.5px;color:#a0a0a0;">(含子计划):</div>
<div class="t" style="right:1032px;top:247.0px;font-size:12.5px;color:#a0a0a0">61</div>
<div class="t" style="left:97px;top:272.5px;font-size:12.5px;color:#a0a0a0;">估算工时:</div>
<div class="t" style="right:1032px;top:272.5px;font-size:12.5px;color:#a0a0a0">59.2</div>
<div class="t" style="left:97px;top:289.0px;font-size:12.5px;color:#a0a0a0;">(含子计划):</div>
<div class="t" style="right:1032px;top:289.0px;font-size:12.5px;color:#a0a0a0">59.2</div>
<div class="t" style="left:97px;top:314.5px;font-size:12.5px;color:#a0a0a0;">3.06-3.10</div>
<div class="t" style="right:1032px;top:314.5px;font-size:12.5px;color:#a0a0a0">5 天</div>
<div class="a" style="left:55px;top:337px;width:217px;height:112px;background:#c8c8c8;border:1px solid #c0c0c0"></div>
<div class="a" style="left:55px;top:372px;width:217px;height:1px;background:#c0c0c0"></div>
<div class="a" style="left:55px;top:410px;width:217px;height:1px;background:#c0c0c0"></div>
<svg class="a" style="left:103px;top:347.5px" width="10" height="10" viewBox="0 0 10 10"><rect x="0.5" y="1.5" width="9" height="8" fill="#ababab"/><path d="M2.5 0V3M7.5 0V3" stroke="#ababab" stroke-width="1.3"/></svg>
<div class="t" style="left:116px;top:346.2px;font-size:13px;color:#8c8c8c;">必须改的的BUG</div>
<svg class="a" style="left:86px;top:386px" width="10" height="10" viewBox="0 0 10 10"><rect x="0.5" y="1.5" width="9" height="8" fill="#ababab"/><path d="M2.5 0V3M7.5 0V3" stroke="#ababab" stroke-width="1.3"/></svg>
<div class="t" style="left:99px;top:384.2px;font-size:13px;color:#8a8a8a;">3-13~3-17</div>
<svg class="a" style="left:86px;top:424px" width="10" height="10" viewBox="0 0 10 10"><rect x="0.5" y="1.5" width="9" height="8" fill="#ababab"/><path d="M2.5 0V3M7.5 0V3" stroke="#ababab" stroke-width="1.3"/></svg>
<div class="t" style="left:99px;top:422.2px;font-size:13px;color:#8a8a8a;">3-20 ~ 3-24</div>
<div class="a" style="left:55px;top:454px;width:217px;height:76px;background:#c9c9c9;border:1px solid #c1c1c1"></div>
<div class="a" style="left:55px;top:491px;width:217px;height:1px;background:#c1c1c1"></div>
<div class="a" style="left:54px;top:453px;width:12px;height:12px;background:#8db0cf"></div>
<svg class="a" style="left:56px;top:455px" width="8" height="8" viewBox="0 0 8 8"><path d="M4 0.5L7.5 4H5.5V7.5H2.5V4H0.5Z" fill="#d8e2ea"/></svg>
<div class="t" style="left:67px;top:465.3px;font-size:12px;color:#adadad;filter:blur(0.7px)">– 2017年2月</div>
<svg class="a" style="left:86px;top:505px" width="10" height="10" viewBox="0 0 10 10"><rect x="0.5" y="1.5" width="9" height="8" fill="#ababab"/><path d="M2.5 0V3M7.5 0V3" stroke="#ababab" stroke-width="1.3"/></svg>
<div class="t" style="left:99px;top:504.1px;font-size:11.5px;color:#adadad;filter:blur(0.7px)">NewStoryMappingIssues</div>
<div class="a" style="left:55px;top:546px;width:217px;height:38px;background:#c9c9c9;border:1px solid #c1c1c1"></div>
<div class="t" style="left:67px;top:558.3px;font-size:12px;color:#adadad;filter:blur(0.7px)">+ Backlog</div>
<div class="a" style="left:55px;top:590px;width:217px;height:30px;background:#c9c9c9;border:1px solid #c1c1c1"></div>
<svg class="a" style="left:68px;top:602px" width="10" height="10" viewBox="0 0 10 10"><rect x="0.5" y="1.5" width="9" height="8" fill="#ababab"/><path d="M2.5 0V3M7.5 0V3" stroke="#ababab" stroke-width="1.3"/></svg>
<div class="t" style="left:81px;top:600.8px;font-size:12px;color:#adadad;filter:blur(0.8px)">2016年中国营销团圆合作型...</div>
<div class="t" style="left:320px;top:70.0px;font-size:17px;color:#7a7a7a;">3-06 ~3-10</div>
<div class="t" style="left:650px;top:73.0px;font-size:12.5px;color:#8a8a8a;">卡片个数</div>
<svg class="a" style="left:700px;top:78px" width="8" height="5" viewBox="0 0 8 5"><path d="M0.5 0.5H7.5L4 4.5Z" fill="#7a7a7a"/></svg>
<div class="t" style="left:728px;top:59.1px;font-size:10.5px;color:#b4b4b4;">03-06</div>
<div class="t" style="left:908px;top:59.1px;font-size:10.5px;color:#b4b4b4;">03-10</div>
<div class="a" style="left:728px;top:73px;width:208px;height:14px;background:#cfcfcf;border:1px solid #c6c6c6"></div>
<div class="a" style="left:728px;top:73px;width:98px;height:14px;background:#85c09c"></div>
<div class="t" style="left:717px;width:120px;text-align:center;top:74.1px;font-size:10.5px;color:#5d8a6e;">47%</div>
<div class="a" style="left:851px;top:72px;width:1.6px;height:18px;background:#d89878"></div>
<div class="a" style="left:849.5px;top:69.5px;width:4px;height:4px;border:1px solid #d89878;border-radius:50%"></div>
<div class="a" style="left:849.5px;top:88px;width:4px;height:4px;border:1px solid #d89878;border-radius:50%"></div>
<div class="a" style="left:1043px;top:67px;width:62px;height:27px;background:#a5a5a5;border-radius:2px 0 0 2px"></div>
<svg class="a" style="left:1055px;top:75px" width="11" height="10" viewBox="0 0 11 10"><path d="M0 0H11V2.4H0ZM0 3.8H11V6.2H0ZM0 7.6H11V10H0Z" fill="#d9d9d9"/></svg>
<div class="t" style="left:1070px;top:74.1px;font-size:11.5px;color:#d4d4d4;">列表</div>
<div class="a" style="left:1105px;top:67px;width:63px;height:27px;background:#cecece;border:1px solid #bdbdbd;border-left:none;border-radius:0 2px 2px 0"></div>
<svg class="a" style="left:1118px;top:76px" width="11" height="9" viewBox="0 0 11 9"><path d="M0 0H4.8V3.8H0ZM6.2 0H11V3.8H6.2ZM0 5.2H4.8V9H0ZM6.2 5.2H11V9H6.2Z" fill="#7a7a7a"/></svg>
<div class="t" style="left:1133px;top:74.1px;font-size:11.5px;color:#8a8a8a;">看板</div>
<div class="a" style="left:1179.5px;top:67px;width:55px;height:27px;background:#cecece;border:1px solid #b4b4b4;border-radius:2px"></div>
<div class="a" style="left:1207px;top:67px;width:1px;height:27px;background:#b4b4b4"></div>
<svg class="a" style="left:1186px;top:74px" width="15" height="13" viewBox="0 0 15 13"><path d="M5 1H12Q14 1 14 3V6Q14 8 12 8H11L12 10.5L8.5 8H5Q3 8 3 6V3Q3 1 5 1Z" fill="none" stroke="#808080" stroke-width="1.2"/><path d="M3 4Q1 4.5 1 6.5Q1 8.5 3 9V11L5.5 9" fill="none" stroke="#808080" stroke-width="1.1"/></svg>
<svg class="a" style="left:1215px;top:75px" width="11" height="11" viewBox="0 0 11 11"><circle cx="5.5" cy="5.5" r="2.9" fill="none" stroke="#777" stroke-width="2.2"/><path d="M5.5 0V2M5.5 9V11M0 5.5H2M9 5.5H11M1.6 1.6L3 3M8 8L9.4 9.4M1.6 9.4L3 8M8 3L9.4 1.6" stroke="#777" stroke-width="1.8"/></svg>
<div class="a" style="left:763px;top:96px;width:35px;height:30px;background:#cacaca"></div>
<svg class="a" style="left:773px;top:106px" width="16" height="9" viewBox="0 0 16 9"><path d="M1 8L8 1.5L15 8" fill="none" stroke="#9c9c9c" stroke-width="1.5"/></svg>
<div class="t" style="left:560px;top:136.5px;font-size:12.5px;color:#555;">卡片总数:</div>
<div class="t" style="left:623px;top:131.7px;font-size:21px;color:#444;">55</div>
<div class="a" style="left:659px;top:133px;width:1px;height:22px;background:#dcdce2"></div>
<div class="t" style="left:671px;top:136.5px;font-size:12.5px;color:#555;">负责人总数:</div>
<div class="t" style="left:748px;top:131.7px;font-size:21px;color:#444;">13</div>
<div class="a" style="left:781px;top:133px;width:1px;height:22px;background:#dcdce2"></div>
<div class="t" style="left:793px;top:136.5px;font-size:12.5px;color:#555;">计划人均卡片:</div>
<div class="t" style="left:881px;top:131.7px;font-size:21px;color:#444;">4.2</div>
<div class="a" style="left:922px;top:133px;width:1px;height:22px;background:#dcdce2"></div>
<div class="t" style="left:934px;top:136.5px;font-size:12.5px;color:#555;">计划天数:</div>
<div class="t" style="left:997px;top:131.7px;font-size:21px;color:#444;">5</div>
<svg class="a" style="left:394.8px;top:166.7px" width="28" height="28" viewBox="0 0 28 28"><circle cx="14" cy="14" r="12.8" fill="#fff" stroke="#b8b8b8" stroke-width="1"/><circle cx="9" cy="12" r="1.6" fill="#999"/><circle cx="14" cy="12" r="1.6" fill="#999"/><circle cx="19" cy="12" r="1.6" fill="#999"/><path d="M6.5 17H21.5" stroke="#999" stroke-width="1.6" stroke-dasharray="2 1"/></svg>
<svg class="a" style="left:467.3px;top:166.7px" width="28" height="28" viewBox="0 0 28 28"><defs><clipPath id="c1"><circle cx="14" cy="14" r="13.5"/></clipPath></defs><g clip-path="url(#c1)"><rect width="28" height="28" fill="#2f5f6e"/><path d="M3 28Q4 20 14 20Q24 20 25 28Z" fill="#e8e0d8"/><ellipse cx="14" cy="12.5" rx="5.6" ry="6.6" fill="#e8c4a4"/><path d="M5.5 22Q4 3 14 3Q24 3 22.5 22Q20 14 19.5 9Q14 6.5 8.5 9Q8 14 5.5 22Z" fill="#5a3624"/></g></svg>
<svg class="a" style="left:521px;top:166.7px" width="28" height="28" viewBox="0 0 28 28"><defs><clipPath id="c2"><circle cx="14" cy="14" r="13.5"/></clipPath></defs><g clip-path="url(#c2)"><rect width="28" height="28" fill="#2d8bd6"/><path d="M3 28Q4 20 14 20Q24 20 25 28Z" fill="#3b4a5c"/><ellipse cx="14" cy="12.5" rx="5.6" ry="6.6" fill="#e8c4a4"/><path d="M6.5 11Q6 3.5 14 3.5Q22 3.5 21.5 11Q20 7.5 14 7.5Q8 7.5 6.5 11Z" fill="#2a2320"/><path d="M9 12H13M15 12H19" stroke="#333" stroke-width="1"/></g></svg>
<svg class="a" style="left:576.5px;top:166.7px" width="28" height="28" viewBox="0 0 28 28"><defs><clipPath id="c3"><circle cx="14" cy="14" r="13.5"/></clipPath></defs><g clip-path="url(#c3)"><rect width="28" height="28" fill="#f1f1f1"/><path d="M3 28Q4 20 14 20Q24 20 25 28Z" fill="#8e9aa8"/><ellipse cx="14" cy="12.5" rx="5.6" ry="6.6" fill="#e8c4a4"/><path d="M6.5 11Q6 3.5 14 3.5Q22 3.5 21.5 11Q20 7.5 14 7.5Q8 7.5 6.5 11Z" fill="#2c2826"/><path d="M9 12.5H13M15 12.5H19" stroke="#444" stroke-width="0.9"/></g></svg>
<svg class="a" style="left:630px;top:166.7px" width="28" height="28" viewBox="0 0 28 28"><defs><clipPath id="c4"><circle cx="14" cy="14" r="13.5"/></clipPath></defs><g clip-path="url(#c4)"><rect width="28" height="28" fill="#2b4fc0"/><path d="M3 28Q4 20 14 20Q24 20 25 28Z" fill="#e0d8e8"/><ellipse cx="14" cy="12.5" rx="5.6" ry="6.6" fill="#e8c4a4"/><path d="M5.5 22Q4 3 14 3Q24 3 22.5 22Q20 14 19.5 9Q14 6.5 8.5 9Q8 14 5.5 22Z" fill="#1e1a22"/></g></svg>
<svg class="a" style="left:684px;top:166.7px" width="28" height="28" viewBox="0 0 28 28"><defs><clipPath id="c5"><circle cx="14" cy="14" r="13.5"/></clipPath></defs><g clip-path="url(#c5)"><rect width="28" height="28" fill="#f0eeee"/><path d="M3 28Q4 20 14 20Q24 20 25 28Z" fill="#2a2a2e"/><ellipse cx="14" cy="12.5" rx="5.6" ry="6.6" fill="#e8c4a4"/><path d="M6.5 11Q6 3.5 14 3.5Q22 3.5 21.5 11Q20 7.5 14 7.5Q8 7.5 6.5 11Z" fill="#23201f"/></g></svg>
<svg class="a" style="left:738px;top:166.7px" width="28" height="28" viewBox="0 0 28 28"><defs><clipPath id="c6"><circle cx="14" cy="14" r="13.5"/></clipPath></defs><g clip-path="url(#c6)"><rect width="28" height="28" fill="#f4eeee"/><path d="M3 28Q4 20 14 20Q24 20 25 28Z" fill="#c83a36"/><ellipse cx="14" cy="12.5" rx="5.6" ry="6.6" fill="#e8c4a4"/><path d="M5.5 22Q4 3 14 3Q24 3 22.5 22Q20 14 19.5 9Q14 6.5 8.5 9Q8 14 5.5 22Z" fill="#6a3326"/></g></svg>
<svg class="a" style="left:792px;top:166.7px" width="28" height="28" viewBox="0 0 28 28"><defs><clipPath id="c7"><circle cx="14" cy="14" r="13.5"/></clipPath></defs><g clip-path="url(#c7)"><rect width="28" height="28" fill="#2f62b8"/><path d="M3 28Q4 20 14 20Q24 20 25 28Z" fill="#3a62c4"/><ellipse cx="14" cy="12.5" rx="5.6" ry="6.6" fill="#f0cfa8"/><path d="M6.5 11Q6 3.5 14 3.5Q22 3.5 21.5 11Q20 7.5 14 7.5Q8 7.5 6.5 11Z" fill="#3d2a1e"/><circle cx="11" cy="13" r="2.6" fill="none" stroke="#222" stroke-width="0.9"/><circle cx="17" cy="13" r="2.6" fill="none" stroke="#222" stroke-width="0.9"/><path d="M11 22L14 20L17 22L14 24Z" fill="#c33"/></g></svg>
<svg class="a" style="left:847px;top:166.7px" width="28" height="28" viewBox="0 0 28 28"><defs><clipPath id="c8"><circle cx="14" cy="14" r="13.5"/></clipPath></defs><g clip-path="url(#c8)"><rect width="28" height="28" fill="#8a8478"/><path d="M3 28Q4 20 14 20Q24 20 25 28Z" fill="#6a747e"/><ellipse cx="14" cy="12.5" rx="5.6" ry="6.6" fill="#d8b08c"/><path d="M6.5 11Q6 3.5 14 3.5Q22 3.5 21.5 11Q20 7.5 14 7.5Q8 7.5 6.5 11Z" fill="#3a2e26"/><path d="M9 12.5H13M15 12.5H19" stroke="#333" stroke-width="0.9"/></g></svg>
<svg class="a" style="left:901px;top:166.7px" width="28" height="28" viewBox="0 0 28 28"><defs><clipPath id="c9"><circle cx="14" cy="14" r="13.5"/></clipPath></defs><g clip-path="url(#c9)"><rect width="28" height="28" fill="#c8c8c8"/><path d="M3 28Q4 20 14 20Q24 20 25 28Z" fill="#3a3f4a"/><ellipse cx="14" cy="12.5" rx="5.6" ry="6.6" fill="#dcbca4"/><path d="M6.5 11Q6 3.5 14 3.5Q22 3.5 21.5 11Q20 7.5 14 7.5Q8 7.5 6.5 11Z" fill="#2a2624"/></g></svg>
<svg class="a" style="left:955.5px;top:166.7px" width="28" height="28" viewBox="0 0 28 28"><defs><clipPath id="c10"><circle cx="14" cy="14" r="13.5"/></clipPath></defs><g clip-path="url(#c10)"><rect width="28" height="28" fill="#2a5fd2"/><path d="M3 28Q4 20 14 20Q24 20 25 28Z" fill="#20222c"/><ellipse cx="14" cy="12.5" rx="5.6" ry="6.6" fill="#e6c4a8"/><path d="M6.5 11Q6 3.5 14 3.5Q22 3.5 21.5 11Q20 7.5 14 7.5Q8 7.5 6.5 11Z" fill="#1c1a1a"/><path d="M12.5 20L14 24L15.5 20Z" fill="#eee"/></g></svg>
<svg class="a" style="left:1010px;top:166.7px" width="28" height="28" viewBox="0 0 28 28"><defs><clipPath id="c11"><circle cx="14" cy="14" r="13.5"/></clipPath></defs><g clip-path="url(#c11)"><rect width="28" height="28" fill="#e8d8cc"/><path d="M3 28Q4 20 14 20Q24 20 25 28Z" fill="#d8c0ac"/><ellipse cx="14" cy="12.5" rx="5.6" ry="6.6" fill="#e8b89c"/><path d="M4.5 28Q2.5 3 14 3Q25.5 3 23.5 28Q20 16 19.5 9Q14 7 8.5 9Q8 16 4.5 28Z" fill="#8c6244"/></g></svg>
<svg class="a" style="left:1064px;top:166.7px" width="28" height="28" viewBox="0 0 28 28"><defs><clipPath id="c12"><circle cx="14" cy="14" r="13.5"/></clipPath></defs><g clip-path="url(#c12)"><rect width="28" height="28" fill="#4a4038"/><path d="M3 28Q4 20 14 20Q24 20 25 28Z" fill="#54483e"/><ellipse cx="14" cy="12.5" rx="5.6" ry="6.6" fill="#b88c6c"/><path d="M6.5 11Q6 3.5 14 3.5Q22 3.5 21.5 11Q20 7.5 14 7.5Q8 7.5 6.5 11Z" fill="#2c241e"/></g></svg>
<svg class="a" style="left:1118px;top:166.7px" width="28" height="28" viewBox="0 0 28 28"><defs><clipPath id="c13"><circle cx="14" cy="14" r="13.5"/></clipPath></defs><g clip-path="url(#c13)"><rect width="28" height="28" fill="#9fd0ee"/><ellipse cx="12" cy="7" rx="7" ry="3" fill="#eef6fb"/><rect y="14" width="28" height="14" fill="#86b94e"/><path d="M16 22Q16 13 18.5 13Q21 13 21 22Z" fill="#26303c"/></g></svg>
<div class="t" style="left:348.8px;width:120px;text-align:center;top:202.8px;font-size:12px;color:#777;">所有</div>
<div class="t" style="left:348.8px;width:120px;text-align:center;top:223.8px;font-size:12.5px;color:#555;">55</div>
<div class="t" style="left:421.3px;width:120px;text-align:center;top:203.1px;font-size:11.5px;color:#aaa;filter:blur(1px)">唐宝文</div>
<div class="t" style="left:421.3px;width:120px;text-align:center;top:223.8px;font-size:12.5px;color:#555;">3</div>
<div class="t" style="left:475px;width:120px;text-align:center;top:203.1px;font-size:11.5px;color:#aaa;filter:blur(1px)">丁宝圈</div>
<div class="t" style="left:475px;width:120px;text-align:center;top:223.8px;font-size:12.5px;color:#555;">5</div>
<div class="t" style="left:530.5px;width:120px;text-align:center;top:203.1px;font-size:11.5px;color:#aaa;filter:blur(1px)">胡刚革</div>
<div class="t" style="left:530.5px;width:120px;text-align:center;top:223.8px;font-size:12.5px;color:#555;">10</div>
<div class="t" style="left:584px;width:120px;text-align:center;top:203.1px;font-size:11.5px;color:#aaa;filter:blur(1px)">胡璐</div>
<div class="t" style="left:584px;width:120px;text-align:center;top:223.8px;font-size:12.5px;color:#555;">5</div>
<div class="t" style="left:638px;width:120px;text-align:center;top:203.1px;font-size:11.5px;color:#aaa;filter:blur(1px)">张凯</div>
<div class="t" style="left:638px;width:120px;text-align:center;top:223.8px;font-size:12.5px;color:#555;">1</div>
<div class="t" style="left:692px;width:120px;text-align:center;top:203.1px;font-size:11.5px;color:#aaa;filter:blur(1px)">刘二雨</div>
<div class="t" style="left:692px;width:120px;text-align:center;top:223.8px;font-size:12.5px;color:#555;">6</div>
<div class="t" style="left:746px;width:120px;text-align:center;top:203.1px;font-size:11.5px;color:#aaa;filter:blur(1px)">马鹿里</div>
<div class="t" style="left:746px;width:120px;text-align:center;top:223.8px;font-size:12.5px;color:#555;">4</div>
<div class="t" style="left:801px;width:120px;text-align:center;top:203.1px;font-size:11.5px;color:#aaa;filter:blur(1px)">谢翰翔</div>
<div class="t" style="left:801px;width:120px;text-align:center;top:223.8px;font-size:12.5px;color:#555;">7</div>
<div class="t" style="left:855px;width:120px;text-align:center;top:203.1px;font-size:11.5px;color:#aaa;filter:blur(1px)">庄国伟</div>
<div class="t" style="left:855px;width:120px;text-align:center;top:223.8px;font-size:12.5px;color:#555;">7</div>
<div class="t" style="left:909.5px;width:120px;text-align:center;top:203.1px;font-size:11.5px;color:#aaa;filter:blur(1px)">孙磊</div>
<div class="t" style="left:909.5px;width:120px;text-align:center;top:223.8px;font-size:12.5px;color:#555;">7</div>
<div class="t" style="left:964px;width:120px;text-align:center;top:203.1px;font-size:11.5px;color:#aaa;filter:blur(1px)">王超</div>
<div class="t" style="left:964px;width:120px;text-align:center;top:223.8px;font-size:12.5px;color:#555;">1</div>
<div class="t" style="left:1018px;width:120px;text-align:center;top:203.1px;font-size:11.5px;color:#aaa;filter:blur(1px)">王春宇</div>
<div class="t" style="left:1018px;width:120px;text-align:center;top:223.8px;font-size:12.5px;color:#555;">3</div>
<div class="t" style="left:1072px;width:120px;text-align:center;top:203.1px;font-size:11.5px;color:#aaa;filter:blur(1px)">谢向飞</div>
<div class="t" style="left:1072px;width:120px;text-align:center;top:223.8px;font-size:12.5px;color:#555;">6</div>
<svg class="a" style="left:320px;top:292px" width="8" height="10" viewBox="0 0 8 10"><path d="M0 0H8L5 4V9.5L3 8V4Z" fill="#6c6c6c"/></svg>
<div class="t" style="left:332px;top:290.6px;font-size:11.5px;color:#9a9a9a;">筛选</div>
<div class="a" style="left:378px;top:292px;width:10px;height:10px;background:#c4c4c4;border:1px solid #b4b4b4;border-radius:2px"></div>
<div class="t" style="left:395px;top:290.6px;font-size:11.5px;color:#8e8e8e;">包含子计划</div>
<div class="a" style="left:486px;top:292px;width:10px;height:10px;background:#c4c4c4;border:1px solid #b4b4b4;border-radius:2px"></div>
<div class="t" style="left:503px;top:290.6px;font-size:11.5px;color:#8e8e8e;">只看自己的</div>
<div class="t" style="left:1097px;top:324.1px;font-size:10.5px;color:#86a6c4;filter:blur(0.5px)">批量操作</div>
<div class="t" style="left:1140px;top:324.1px;font-size:10.5px;color:#d89c9c;">55</div>
<div class="t" style="left:1153px;top:324.1px;font-size:10.5px;color:#9c9c9c;">条</div>
<div class="a" style="left:1183px;top:325px;width:1.6px;height:9px;background:#777"></div>
<div class="a" style="left:1186px;top:325px;width:1.6px;height:9px;background:#777"></div>
<div class="t" style="left:1195px;top:324.1px;font-size:10.5px;color:#808080;">Bug视图</div>
<svg class="a" style="left:1239px;top:328px" width="8" height="5" viewBox="0 0 8 5"><path d="M0.5 0.5H7.5L4 4.5Z" fill="#6a6a6a"/></svg>
<div class="a" style="left:302px;top:337px;width:990px;height:1px;background:#bcbcbc"></div>
<div class="a" style="left:302px;top:347px;width:957px;height:1px;background:#c4c4c4"></div>
<div class="t" style="left:316px;top:365.5px;font-size:12.5px;color:#a8a8a8;">编号</div>
<svg class="a" style="left:441px;top:367px" width="6" height="10" viewBox="0 0 6 10"><path d="M0.5 0.5L5.5 5L0.5 9.5Z" fill="#666"/></svg>
<div class="t" style="left:455px;top:365.5px;font-size:12.5px;color:#a8a8a8;">标题</div>
<div class="t" style="left:876px;top:365.5px;font-size:12.5px;color:#a8a8a8;">流程状态</div>
<div class="t" style="left:1004px;top:365.5px;font-size:12.5px;color:#a8a8a8;">估算工时</div>
<div class="t" style="left:1129px;top:365.5px;font-size:12.5px;color:#a8a8a8;">负责人</div>
<div class="a" style="left:302px;top:388px;width:957px;height:1px;background:#c4c4c4"></div>
<div class="t" style="left:438px;top:393.3px;font-size:12px;color:#7a9ec4;">+</div>
<div class="t" style="left:455px;top:393.6px;font-size:11.5px;color:#7a9ec4;">快速新建卡片</div>
<div class="a" style="left:306px;top:414.0px;width:953px;height:1px;background:#c2c2c2"></div>
<div class="a" style="left:301px;top:415.0px;width:5.5px;height:37px;background:#d4927a;border-radius:2px"></div>
<div class="t" style="left:325px;top:427.8px;font-size:12px;color:#848484;">Mario-6105</div>
<div class="t" style="left:460px;top:426.5px;width:290px;overflow:hidden;font-size:11.5px;color:#9a9a9a;filter:blur(0.9px)">【macross组网】坚web后台总是检查server port的偏质</div>
<div class="a" style="left:871px;top:424.5px;width:61px;height:18px;border:1px solid #d6b08c;border-radius:9px;background:#d0ccc6;color:#8c8c8c;font-size:11.5px;line-height:15px;text-align:center">open</div>
<div class="t" style="left:1130px;top:427.1px;font-size:11.5px;color:#a4a4a4;filter:blur(0.9px)">荣君伟</div>
<div class="a" style="left:306px;top:452.8499999999999px;width:953px;height:1px;background:#c2c2c2"></div>
<div class="a" style="left:301px;top:453.8499999999999px;width:5.5px;height:37px;background:#d4927a;border-radius:2px"></div>
<div class="t" style="left:325px;top:466.6px;font-size:12px;color:#848484;">Mario-6104</div>
<div class="t" style="left:460px;top:465.3px;width:140px;overflow:hidden;font-size:11.5px;color:#9a9a9a;filter:blur(0.9px)">切换流程状态的几个小bug</div>
<div class="a" style="left:871px;top:463.3px;width:61px;height:18px;border:1px solid #d6b08c;border-radius:9px;background:#d0ccc6;color:#8c8c8c;font-size:11.5px;line-height:15px;text-align:center">open</div>
<div class="t" style="left:1130px;top:465.9px;font-size:11.5px;color:#a4a4a4;filter:blur(0.9px)">孙磊</div>
<div class="a" style="left:306px;top:491.70000000000005px;width:953px;height:1px;background:#c2c2c2"></div>
<div class="a" style="left:301px;top:492.70000000000005px;width:5.5px;height:37px;background:#d4927a;border-radius:2px"></div>
<div class="t" style="left:325px;top:505.5px;font-size:12px;color:#848484;">Mario-6094</div>
<div class="t" style="left:460px;top:504.2px;width:95px;overflow:hidden;font-size:11.5px;color:#9a9a9a;filter:blur(0.9px)">发监时间快率不对</div>
<div class="a" style="left:871px;top:502.2px;width:61px;height:18px;border:1px solid #8cc4bc;border-radius:9px;background:#c4d2d0;color:#8c9c9a;font-size:11.5px;line-height:15px;text-align:center">已完成</div>
<div class="t" style="left:1130px;top:504.8px;font-size:11.5px;color:#a4a4a4;filter:blur(0.9px)">王春宇</div>
<div class="a" style="left:306px;top:530.55px;width:953px;height:1px;background:#c2c2c2"></div>
<div class="a" style="left:301px;top:531.55px;width:5.5px;height:37px;background:#d4927a;border-radius:2px"></div>
<div class="t" style="left:325px;top:544.3px;font-size:12px;color:#848484;">Mario-6093</div>
<div class="t" style="left:460px;top:543.0px;width:285px;overflow:hidden;font-size:11.5px;color:#9a9a9a;filter:blur(0.9px)">bugs平台，限查问题计输入是神祖、用户名和封，重辑</div>
<div class="a" style="left:871px;top:541.0px;width:61px;height:18px;border:1px solid #d6b08c;border-radius:9px;background:#d0ccc6;color:#8c8c8c;font-size:11.5px;line-height:15px;text-align:center">open</div>
<div class="t" style="left:1130px;top:543.6px;font-size:11.5px;color:#a4a4a4;filter:blur(0.9px)">蒋哲 孙磊</div>
<div class="a" style="left:306px;top:569.4000000000001px;width:953px;height:1px;background:#c2c2c2"></div>
<div class="a" style="left:301px;top:570.4000000000001px;width:5.5px;height:37px;background:#d4927a;border-radius:2px"></div>
<div class="t" style="left:325px;top:583.2px;font-size:12px;color:#848484;">Mario-6090</div>
<div class="t" style="left:460px;top:581.9px;width:140px;overflow:hidden;font-size:11.5px;color:#9a9a9a;filter:blur(0.9px)">空间配置 人员suggest问题</div>
<div class="a" style="left:871px;top:579.9px;width:61px;height:18px;border:1px solid #8cc4bc;border-radius:9px;background:#c4d2d0;color:#8c9c9a;font-size:11.5px;line-height:15px;text-align:center">已完成</div>
<div class="t" style="left:1006px;top:582.2px;font-size:12px;color:#9a9a9a;">1</div>
<div class="t" style="left:1130px;top:582.5px;font-size:11.5px;color:#a4a4a4;filter:blur(0.9px)">孙磊,马鹿里</div>
<div class="a" style="left:301px;top:609.25px;width:5.5px;height:10px;background:#d4927a;border-radius:2px"></div>
<div class="a" style="left:306px;top:608.25px;width:953px;height:1px;background:#c2c2c2"></div>
<svg class="a" style="left:1235px;top:565px" width="48" height="48" viewBox="0 0 48 48"><circle cx="24" cy="25" r="19" fill="#d6d4dc" stroke="#9d90d4" stroke-width="1.5"/><path d="M8 24A16 16 0 0 1 40 24" fill="none" stroke="#9d90d4" stroke-width="1.6"/><rect x="3.5" y="21" width="6" height="11" rx="3" fill="#a89ce0"/><rect x="38.5" y="21" width="6" height="11" rx="3" fill="#a89ce0"/><ellipse cx="24" cy="27" rx="13" ry="11" fill="#dedde4"/><circle cx="19" cy="25" r="2" fill="#666"/><circle cx="29" cy="25" r="2" fill="#666"/><path d="M22 30Q24 32 26 30" fill="none" stroke="#777" stroke-width="1"/><path d="M40 32Q38 40 28 40" fill="none" stroke="#9d90d4" stroke-width="1.3"/><path d="M24 6Q26 2 29 4" fill="none" stroke="#9d90d4" stroke-width="1.2"/></svg>
<!--S3C-->
</div>
</body></html>
